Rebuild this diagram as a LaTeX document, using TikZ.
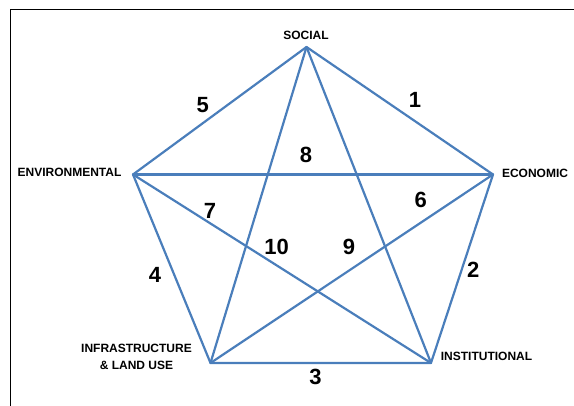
\documentclass[tikz,border=0pt]{standalone}
\usepackage{fontspec}
\setmainfont{Liberation Sans}
\definecolor{lineblue}{RGB}{74,126,187}
\tikzset{
  edge/.style={draw=lineblue, line width=2.2pt, line cap=round, line join=round},
  vlabel/.style={font=\bfseries\fontsize{12}{17}\selectfont, inner sep=0pt, align=center},
  num/.style={font=\bfseries\fontsize{22}{24}\selectfont, inner sep=0pt},
}
\begin{document}
\begin{tikzpicture}[x=1pt,y=1pt]
\useasboundingbox (0,0) rectangle (574,406);
% frame (top and left only visible)
\coordinate (fbl) at (10,-2);
\coordinate (ftl) at (10,396);
\coordinate (ftr) at (576,396);
\draw[line width=1pt] (fbl) -- (ftl) -- (ftr);
% vertices
\coordinate (S) at (306.5,359);
\coordinate (E) at (493,231.5);
\coordinate (I) at (431,43);
\coordinate (L) at (210.5,43);
\coordinate (W) at (133,231.5);
% pentagon
\draw[edge] (S) -- (E) -- (I) -- (L) -- (W) -- cycle;
% star
\draw[edge] (S) -- (I);
\draw[edge] (S) -- (L);
\draw[edge] (W) -- (E);
\draw[edge] (W) -- (I);
\draw[edge] (E) -- (L);
% vertex labels
\node[vlabel] (social) at (306,371) {SOCIAL};
\node[vlabel] (econ) at (535,232.5) {ECONOMIC};
\node[vlabel] (inst) at (486.5,50) {INSTITUTIONAL};
\node[vlabel] (env) at (69.5,233.5) {ENVIRONMENTAL};
\node[vlabel] (infra) at (136.5,49.5) {INFRASTRUCTURE\\\& LAND USE};
% numbers
\node[num] (n1) at (415,306) {1};
\node[num] (n2) at (473.3,136) {2};
\node[num] (n3) at (315.5,29) {3};
\node[num] (n4) at (155,131) {4};
\node[num] (n5) at (202.7,301) {5};
\node[num] (n6) at (420.7,206) {6};
\node[num] (n7) at (210,195) {7};
\node[num] (n8) at (306,251) {8};
\node[num] (n9) at (349,159.5) {9};
\node[num] (n10) at (276.7,159.5) {10};
\end{tikzpicture}
\end{document}
